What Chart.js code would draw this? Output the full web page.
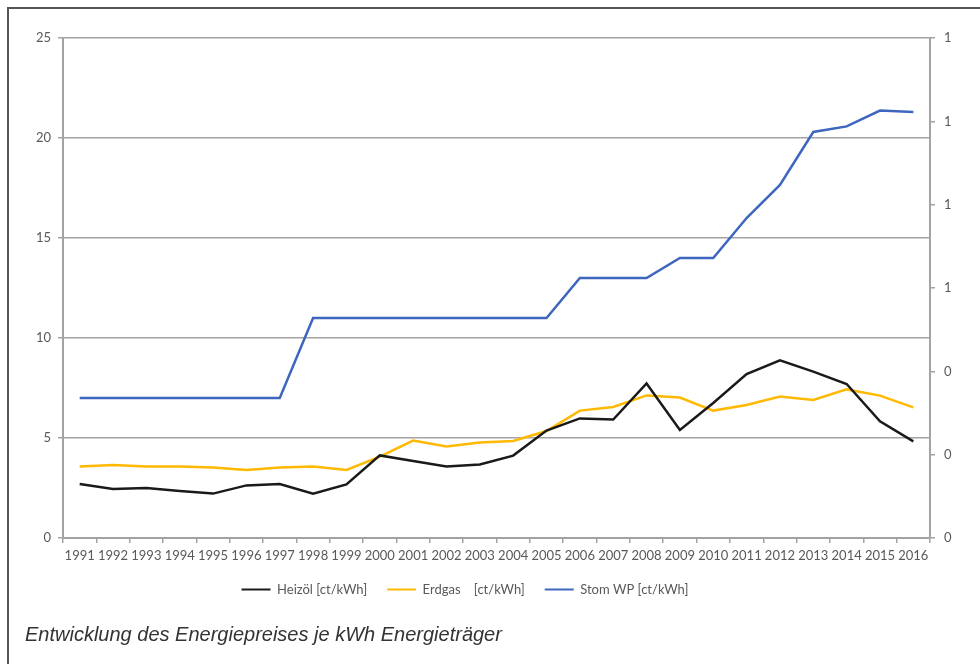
<!DOCTYPE html>
<html>
<head>
<meta charset="utf-8">
<script src="https://cdn.jsdelivr.net/npm/chart.js@4.4.1/dist/chart.umd.min.js"></script>
<style>
  html, body { margin: 0; padding: 0; background: #fff; }
  #wrap { position: relative; width: 980px; height: 664px; overflow: hidden; }
  #frame { position: absolute; left: 7px; top: 7px; width: 980px; height: 700px;
           border-left: 2px solid #555; border-top: 2px solid #555; box-sizing: border-box; }
  #c { position: absolute; left: -50px; top: 0; }
  #caption { position: absolute; left: 25px; top: 623px; font-family: "Liberation Sans", Arial, sans-serif;
             font-style: italic; font-size: 20px; color: #333; white-space: nowrap; }
</style>
</head>
<body>
<div id="wrap">
  <div id="frame"></div>
  <canvas id="c" width="1030" height="664"></canvas>
  <div id="caption">Entwicklung des Energiepreises je kWh Energieträger</div>
</div>
<script>
const years = ["1991","1992","1993","1994","1995","1996","1997","1998","1999","2000","2001","2002","2003","2004","2005","2006","2007","2008","2009","2010","2011","2012","2013","2014","2015","2016"];
const heizoel = [2.7, 2.45, 2.5, 2.35, 2.22, 2.63, 2.7, 2.22, 2.68, 4.13, 3.85, 3.58, 3.68, 4.12, 5.37, 5.98, 5.92, 7.73, 5.4, 6.75, 8.2, 8.88, 8.32, 7.7, 5.83, 4.83];
const erdgas = [3.58, 3.65, 3.58, 3.58, 3.52, 3.4, 3.52, 3.57, 3.4, 4.07, 4.87, 4.57, 4.77, 4.85, 5.35, 6.37, 6.55, 7.13, 7.02, 6.37, 6.65, 7.07, 6.9, 7.43, 7.12, 6.53];
const stromWP = [7, 7, 7, 7, 7, 7, 7, 11, 11, 11, 11, 11, 11, 11, 11, 13, 13, 13, 14, 14, 16, 17.65, 20.3, 20.58, 21.37, 21.3];
const seriesLabels = ["Heizöl [ct/kWh]", "Erdgas    [ct/kWh]", "Stom WP [ct/kWh]"];
const seriesColors = ["#1a1a1a", "#FFB900", "#3E66BE"];

const gridColor = "#a3a3a3";
const tickColor = "#595959";
const font = "Lato";

new Chart(document.getElementById("c"), {
  type: "line",
  data: {
    labels: years,
    datasets: [
      { label: seriesLabels[0], data: heizoel, borderColor: seriesColors[0], backgroundColor: seriesColors[0], yAxisID: "y" },
      { label: seriesLabels[1], data: erdgas, borderColor: seriesColors[1], backgroundColor: seriesColors[1], yAxisID: "y" },
      { label: seriesLabels[2], data: stromWP, borderColor: seriesColors[2], backgroundColor: seriesColors[2], yAxisID: "y" }
    ]
  },
  options: {
    responsive: false,
    animation: false,
    devicePixelRatio: 1,
    elements: { line: { borderWidth: 2.5, tension: 0 }, point: { radius: 0 } },
    layout: { padding: { top: 38, right: 0, bottom: 58, left: 0 } },
    plugins: {
      tooltip: { enabled: false },
      legend: {
        position: "bottom",
        labels: {
          font: { family: font, size: 13 },
          color: tickColor,
          boxWidth: 29,
          boxHeight: 2,
          padding: 20,
          generateLabels: (chart) => chart.data.datasets.map((d, i) => ({
            text: d.label, fillStyle: d.borderColor, strokeStyle: d.borderColor,
            lineWidth: 0, hidden: false, datasetIndex: i, fontColor: tickColor
          }))
        }
      }
    },
    scales: {
      x: {
        type: "category",
        offset: true,
        afterFit: (s) => { s.height = 25; },
        grid: { display: true, offset: true, drawOnChartArea: false, drawTicks: true, tickLength: 5, color: gridColor, lineWidth: 1.5 },
        border: { display: true, color: gridColor, width: 2 },
        ticks: { autoSkip: false, maxRotation: 0, minRotation: 0, padding: 5, color: tickColor, font: { family: font, size: 13 } }
      },
      y: {
        type: "linear",
        position: "left",
        min: 0, max: 25,
        afterFit: (s) => { s.width = 113; },
        grid: { color: gridColor, lineWidth: 1.5, tickLength: 5, drawTicks: true },
        border: { display: true, color: gridColor, width: 2 },
        ticks: { stepSize: 5, padding: 7, color: tickColor, font: { family: font, size: 13 } }
      },
      y2: {
        type: "linear",
        position: "right",
        display: true,
        min: 0, max: 1.2,
        afterFit: (s) => { s.width = 50; },
        grid: { drawOnChartArea: false, drawTicks: true, tickLength: 5, color: gridColor, lineWidth: 1.5 },
        border: { display: true, color: gridColor, width: 2 },
        ticks: { stepSize: 0.2, padding: 9, color: tickColor, font: { family: font, size: 13 },
                 callback: (v) => String(Math.round(v)) }
      }
    }
  }
});
</script>
</body>
</html>
